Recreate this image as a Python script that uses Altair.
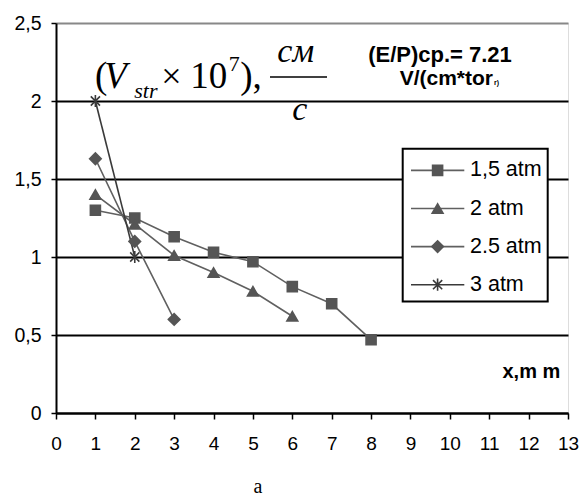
import altair as alt
import pandas as pd

# ---- data ----
series_names = ["1,5 atm", "2 atm", "2.5 atm", "3 atm"]
x_15 = [1, 2, 3, 4, 5, 6, 7, 8]
y_15 = [1.30, 1.25, 1.13, 1.03, 0.97, 0.81, 0.70, 0.47]
x_2 = [1, 2, 3, 4, 5, 6]
y_2 = [1.40, 1.21, 1.01, 0.90, 0.78, 0.62]
x_25 = [1, 2, 3]
y_25 = [1.63, 1.10, 0.60]
x_3 = [1, 2]
y_3 = [2.00, 1.00]

x_ticks = list(range(0, 14))
y_ticks = [0, 0.5, 1, 1.5, 2, 2.5]

rows = []
for name, xs, ys in zip(series_names, [x_15, x_2, x_25, x_3], [y_15, y_2, y_25, y_3]):
    for xv, yv in zip(xs, ys):
        rows.append({"series": name, "x": xv, "y": yv})
df = pd.DataFrame(rows)
legend_df = pd.DataFrame({"series": series_names, "row": list(range(len(series_names)))})
one = pd.DataFrame({"k": [0]})

# ---- styles ----
star_path = "M-0.75,-0.75L0.75,0.75M-0.75,0.75L0.75,-0.75M0,-1L0,1"
shape_scale = alt.Scale(domain=series_names, range=["square", "triangle-up", "diamond", star_path])
size_scale = alt.Scale(domain=series_names, range=[100, 150, 135, 110])
line_scale = alt.Scale(domain=series_names, range=["#606060", "#606060", "#606060", "#3a3a3a"])
fill_scale = alt.Scale(domain=series_names, range=["#555555", "#555555", "#555555", "transparent"])
stroke_scale = alt.Scale(domain=series_names, range=["#555555", "#555555", "#555555", "#3a3a3a"])

SANS = "Liberation Sans"
SERIF = "Liberation Serif"
OX = 1.3  # horizontal offset of overlay elements relative to the plot origin

x_axis = alt.Axis(values=x_ticks, title=None, grid=False, domainColor="black",
                  domainWidth=2, tickColor="black", tickWidth=1.5, tickSize=6,
                  labelFont=SANS, labelFontSize=19, labelColor="black",
                  labelPadding=15, labelFlush=False, labelOverlap=False,
                  labelBound=False, labelSeparation=0)
x_scale = alt.Scale(domain=[0, 13], nice=False, zero=False)
y_axis = alt.Axis(values=y_ticks, title=None, grid=True,
                  gridColor={"expr": "datum.value >= 2.5 ? '#888888' : 'black'"},
                  gridWidth=2, domainColor="black", domainWidth=2,
                  tickColor="black", tickWidth=1.5, tickSize=5,
                  labelExpr="replace(format(datum.value, '~g'), '.', ',')",
                  labelFont=SANS, labelFontSize=19.5, labelColor="black",
                  labelPadding=10, labelFlush=False, labelOverlap=False)
y_scale = alt.Scale(domain=[0, 2.5], nice=False)

lines = alt.Chart(df).mark_line(strokeWidth=1.6).encode(
    x=alt.X("x:Q", scale=x_scale, axis=x_axis),
    y=alt.Y("y:Q", scale=y_scale, axis=y_axis),
    color=alt.Color("series:N", scale=line_scale, legend=None),
    order="x:Q",
)
points = alt.Chart(df).mark_point(opacity=1, strokeWidth=1.6).encode(
    x=alt.X("x:Q", scale=x_scale, axis=x_axis),
    y=alt.Y("y:Q", scale=y_scale, axis=y_axis),
    shape=alt.Shape("series:N", scale=shape_scale, legend=None),
    size=alt.Size("series:N", scale=size_scale, legend=None),
    fill=alt.Fill("series:N", scale=fill_scale, legend=None),
    stroke=alt.Stroke("series:N", scale=stroke_scale, legend=None),
)
main = alt.layer(lines, points)

# ---- legend box (drawn inside the plot) ----
ly = alt.Y("row:Q", scale=alt.Scale(domain=[0, 3], range=[147.4, 261.7]), axis=None)
box = alt.Chart(one).mark_rect(fill="white", stroke="black", strokeWidth=2).encode(
    x=alt.value(345.4 + OX), x2=alt.value(490.4 + OX), y=alt.value(125.7), y2=alt.value(278.4))
leg_rules = alt.Chart(legend_df).mark_rule(strokeWidth=1.6).encode(
    x=alt.value(353.7 + OX), x2=alt.value(407 + OX), y=ly,
    color=alt.Color("series:N", scale=line_scale, legend=None))
leg_pts = alt.Chart(legend_df).mark_point(opacity=1, strokeWidth=1.6).encode(
    x=alt.value(380.3 + OX), y=ly,
    shape=alt.Shape("series:N", scale=shape_scale, legend=None),
    size=alt.Size("series:N", scale=size_scale, legend=None),
    fill=alt.Fill("series:N", scale=fill_scale, legend=None),
    stroke=alt.Stroke("series:N", scale=stroke_scale, legend=None))
leg_txt = alt.Chart(legend_df).mark_text(align="left", baseline="middle", font=SANS,
                                         fontSize=21.5, color="black").encode(
    x=alt.value(412.7 + OX), y=ly, text="series:N")
legend = alt.layer(box, leg_rules, leg_pts, leg_txt)


def txt(s, x, y, size, font=SERIF, style="normal", weight="normal", align="left"):
    return alt.Chart(one).mark_text(align=align, baseline="alphabetic", font=font,
                                    fontSize=size, fontStyle=style, fontWeight=weight,
                                    color="black").encode(
        x=alt.value(x + OX), y=alt.value(y), text=alt.value(s))


ann = [
    txt("(", 37.7, 64.5, 37),
    txt("V", 47.0, 64.5, 37, style="italic"),
    txt("str", 77.0, 75.0, 22, style="italic"),
    txt("×", 104.0, 64.5, 36),
    txt("10", 133.0, 64.5, 37),
    txt("7", 171.5, 48.0, 22),
    txt("),", 183.0, 64.5, 37),
    txt("см", 220.0, 38.7, 34, style="italic"),
    txt("с", 235.0, 97.0, 34, style="italic"),
    txt("(E/P)cp.= 7.21", 382.7, 38.7, 22, font=SANS, weight="bold", align="center"),
    txt("V/(cm*tor", 435.7, 61.7, 21, font=SANS, weight="bold", align="right"),
    txt("r)", 436.7, 61.7, 7, font=SANS, weight="bold"),
    txt("x,m m", 503.0, 354.7, 20, font=SANS, weight="bold", align="right"),
    txt("a", 200.7, 470.0, 20, align="center"),
]
frac_bar = alt.Chart(one).mark_rule(stroke="black", strokeWidth=1.5).encode(
    x=alt.value(212.7 + OX), x2=alt.value(269.7 + OX), y=alt.value(54.0))

chart = alt.layer(main, legend, frac_bar, *ann).resolve_scale(y="independent").properties(
    width=512, height=390,
    autosize=alt.AutoSizeParams(type="none"),
    padding={"left": 48, "top": 15, "right": 11, "bottom": 84},
).configure_view(stroke="#888888", strokeWidth=2).configure_axis(
    labelFont=SANS, labelColor="black"
).configure_axisX(
    labelOverlap=False, labelSeparation=0
).configure(background="white")

chart.save("out.html", embed_options={"renderer": "svg", "actions": False})
